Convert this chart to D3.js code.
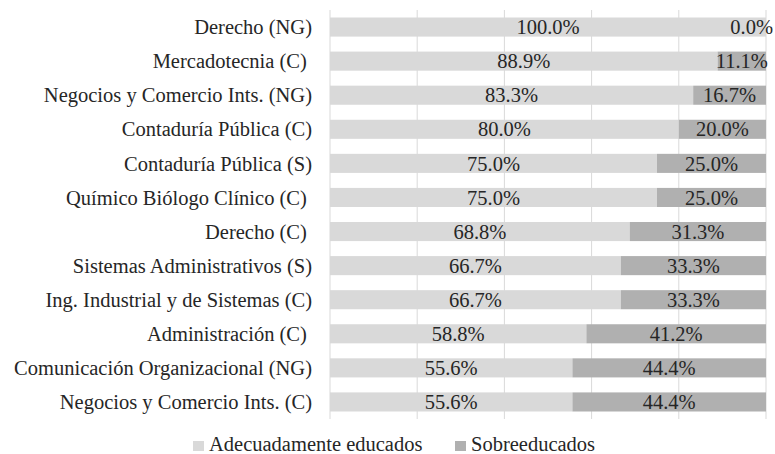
<!DOCTYPE html>
<html>
<head>
<meta charset="utf-8">
<script src="https://cdn.jsdelivr.net/npm/d3@7"></script>
<style>
  body { margin: 0; background: #fff; }
</style>
</head>
<body>
<div id="chart"></div>
<script>
// categories, top to bottom (some labels carry a trailing space like the original)
const categories = [
  "Derecho (NG)",
  "Mercadotecnia (C) ",
  "Negocios y Comercio Ints. (NG)",
  "Contaduría Pública (C)",
  "Contaduría Pública (S)",
  "Químico Biólogo Clínico (C) ",
  "Derecho (C) ",
  "Sistemas Administrativos (S)",
  "Ing. Industrial y de Sistemas (C)",
  "Administración (C) ",
  "Comunicación Organizacional (NG)",
  "Negocios y Comercio Ints. (C)"
];
const adecuados = [100, 88.9, 83.3, 80, 75, 75, 68.75, 66.7, 66.7, 58.8, 55.6, 55.6];
const sobreeducados = [0, 11.1, 16.7, 20, 25, 25, 31.25, 33.3, 33.3, 41.2, 44.4, 44.4];
const xTicks = [0, 20, 40, 60, 80, 100];
const seriesNames = ["Adecuadamente educados", "Sobreeducados"];
const colors = ["#d9d9d9", "#b0b0b0"];

const width = 775, height = 454;
const margin = {top: 10, right: 9, bottom: 35, left: 330};
const fontSize = "20.5px";
const fontFamily = '"Liberation Serif"';

const svg = d3.select("#chart").append("svg")
  .attr("width", width)
  .attr("height", height);

const x = d3.scaleLinear()
  .domain([0, 100])
  .range([margin.left, width - margin.right]);

const y = d3.scaleBand()
  .domain(categories)
  .range([margin.top, height - margin.bottom])
  .paddingInner(0.44)
  .paddingOuter(0.22);

// gridlines
svg.append("g")
  .selectAll("line")
  .data(xTicks)
  .join("line")
  .attr("x1", d => x(d)).attr("x2", d => x(d))
  .attr("y1", margin.top).attr("y2", height - margin.bottom)
  .attr("stroke", "#d9d9d9")
  .attr("stroke-width", 1);

const rows = categories.map((c, i) => ({cat: c, a: adecuados[i], s: sobreeducados[i]}));
const stacked = d3.stack().keys(["a", "s"])(rows);

const layer = svg.append("g")
  .selectAll("g")
  .data(stacked)
  .join("g")
  .attr("fill", (d, i) => colors[i]);

layer.selectAll("rect")
  .data(d => d)
  .join("rect")
  .attr("x", d => x(d[0]))
  .attr("width", d => x(d[1]) - x(d[0]))
  .attr("y", d => y(d.data.cat))
  .attr("height", y.bandwidth());

// value labels
const labels = svg.append("g")
  .selectAll("g")
  .data(stacked)
  .join("g")
  .selectAll("text")
  .data(d => d)
  .join("text")
  .attr("x", d => (x(d[0]) + x(d[1])) / 2)
  .attr("y", d => y(d.data.cat) + y.bandwidth() / 2)
  .attr("dy", "0.35em")
  .attr("text-anchor", "middle")
  .attr("fill", "#262626")
  .style("font-family", fontFamily)
  .style("font-size", fontSize)
  .text(d => (d[1] - d[0]).toFixed(1) + "%");

// keep labels inside the picture
labels.each(function() {
  const b = this.getBBox();
  const over = b.x + b.width - (width - 2);
  if (over > 0) d3.select(this).attr("x", +d3.select(this).attr("x") - over);
});

// category labels
svg.append("g")
  .selectAll("text")
  .data(categories)
  .join("text")
  .attr("x", margin.left - 18)
  .attr("y", d => y(d) + y.bandwidth() / 2)
  .attr("dy", "0.35em")
  .attr("text-anchor", "end")
  .attr("xml:space", "preserve")
  .attr("fill", "#262626")
  .style("white-space", "pre")
  .style("font-family", fontFamily)
  .style("font-size", fontSize)
  .text(d => d);

// legend
const legendX = [193, 455];
const legend = svg.append("g")
  .selectAll("g")
  .data(seriesNames)
  .join("g")
  .attr("transform", (d, i) => `translate(${legendX[i]},441)`);

legend.append("rect")
  .attr("width", 11)
  .attr("height", 10)
  .attr("fill", (d, i) => colors[i]);

legend.append("text")
  .attr("x", 16)
  .attr("y", 10)
  .attr("fill", "#262626")
  .style("font-family", fontFamily)
  .style("font-size", fontSize)
  .text(d => d);
</script>
</body>
</html>
